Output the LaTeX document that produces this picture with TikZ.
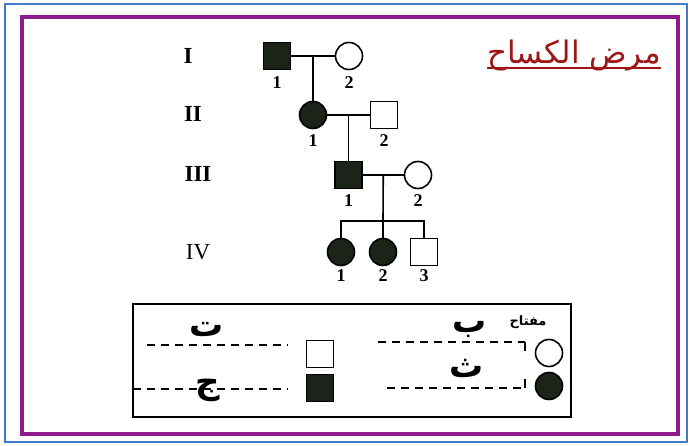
\documentclass[tikz,border=0pt]{standalone}
\usepackage{fontspec}
\setmainfont{Liberation Serif}
\newfontfamily\arabicfont[Script=Arabic]{DejaVu Sans}
\TeXXeTstate=1
\usepackage{tikz}
\usetikzlibrary{positioning}
\definecolor{frameblue}{HTML}{3F7BC9}
\definecolor{framepurple}{HTML}{8E1C8C}
\definecolor{titlered}{HTML}{9E1616}
\definecolor{affected}{HTML}{1C2318}

\tikzset{
	male/.style = {draw, line width = 1.6pt, minimum size = 27pt, inner sep = 0pt},
	female/.style = {draw, circle, line width = 1.6pt, minimum size = 27pt, inner sep = 0pt},
	ill/.style = {fill = affected},
	well/.style = {fill = white},
	pline/.style = {line width = 1.6pt},
	genlab/.style = {font = \fontsize{23}{23}\selectfont\bfseries},
	numlab/.style = {font = \fontsize{18}{18}\selectfont\bfseries, inner sep = 0pt},
	letter/.style = {font = \arabicfont\fontsize{34}{34}\selectfont\bfseries, inner sep = 0pt},
	keyline/.style = {line width = 1.3pt, dash pattern = on 8pt off 6pt}
}

\begin{document}
\begin{tikzpicture}[x = 1pt, y = -1pt]
		\useasboundingbox (0, 0) rectangle (690, 446);
		\fill[white] (0, 0) rectangle (690, 446);
		\draw[frameblue, line width = 1.5pt] (5, 4) rectangle (687, 442);
		\draw[framepurple, line width = 4pt] (22, 17) rectangle (678, 434);

		\node[genlab] (g1) at (188, 56) {I};
		\node[genlab] (g2) at (193, 114) {II};
		\node[genlab] (g3) at (198, 174) {III};
		\node[genlab, font = \fontsize{23}{23}\selectfont] (g4) at (198, 252) {IV};

		\node[male, ill] (i1) at (277, 56) {};
		\node[female, well] (i2) at (349, 56) {};
		\node[female, ill] (ii1) at (313, 115) {};
		\node[male, well] (ii2) at (384, 115) {};
		\node[male, ill] (iii1) at (348.5, 175) {};
		\node[female, well] (iii2) at (418, 175) {};
		\node[female, ill] (iv1) at (341, 252) {};
		\node[female, ill] (iv2) at (383, 252) {};
		\node[male, well] (iv3) at (424, 252) {};
		\coordinate (sib) at (383, 221);

		\draw[pline] (i1.east) -- coordinate (m1) (i2.west);
		\draw[pline] (m1) -- (ii1.north);
		\draw[pline] (ii1.east) -- coordinate (m2) (ii2.west);
		\draw[pline] (m2) -- (iii1.north);
		\draw[pline] (iii1.east) -- coordinate (m3) (iii2.west);
		\draw[pline] (m3) -- (sib);
		\draw[pline] (iv1.north) |- (sib) -| (iv3.north);
		\draw[pline] (sib) -- (iv2.north);

		\node[numlab, below = 6pt of i1] (n11) {1};
		\node[numlab, below = 6pt of i2] (n12) {2};
		\node[numlab, below = 5pt of ii1] (n21) {1};
		\node[numlab, below = 5pt of ii2] (n22) {2};
		\node[numlab, below = 5pt of iii1] (n31) {1};
		\node[numlab, below = 5pt of iii2] (n32) {2};
		\node[numlab, below = 3pt of iv1] (n41) {1};
		\node[numlab, below = 3pt of iv2] (n42) {2};
		\node[numlab, below = 3pt of iv3] (n43) {3};

		\node[text = titlered, inner sep = 0pt, font = \arabicfont\fontsize{31}{31}\selectfont]
		(title) at (574, 56) {\beginR مرض الكساح\endR};
		\draw[titlered, line width = 1.8pt]
		([yshift = -4pt]title.base west) -- ([yshift = -4pt]title.base east);

		\draw[line width = 1.5pt] (133, 304) rectangle (571, 417);
		\node[font = \arabicfont\fontsize{13}{13}\selectfont\bfseries, inner sep = 0pt]
		(keyname) at (528, 322) {\beginR مفتاح\endR};
		\node[male, well] (kw) at (320, 354) {};
		\node[male, ill] (kf) at (320, 388) {};
		\node[female, well] (cw) at (549, 353) {};
		\node[female, ill] (cf) at (549, 386) {};

		\coordinate (ta) at (147, 345);
		\coordinate (tb) at (288, 345);
		\coordinate (ja) at (133, 389);
		\coordinate (jb) at (288, 389);
		\coordinate (ba) at (378, 342);
		\coordinate (bb) at (525, 342);
		\coordinate (tha) at (387, 388);
		\coordinate (thb) at (525, 388);
		\draw[keyline] (ta) -- (tb);
		\draw[keyline] (ja) -- (jb);
		\draw[keyline] (ba) -- (bb);
		\draw[keyline] (tha) -- (thb);
		\draw[line width = 1.2pt, dash pattern = on 9pt off 28pt] (bb) -- (thb);

		\node[letter] (lt) at (207, 330) {\beginR ت\endR};
		\node[letter] (lj) at (208, 390) {\beginR ج\endR};
		\node[letter] (lb) at (470, 329) {\beginR ب\endR};
		\node[letter] (lth) at (467, 368) {\beginR ث\endR};
	\end{tikzpicture}
\end{document}
